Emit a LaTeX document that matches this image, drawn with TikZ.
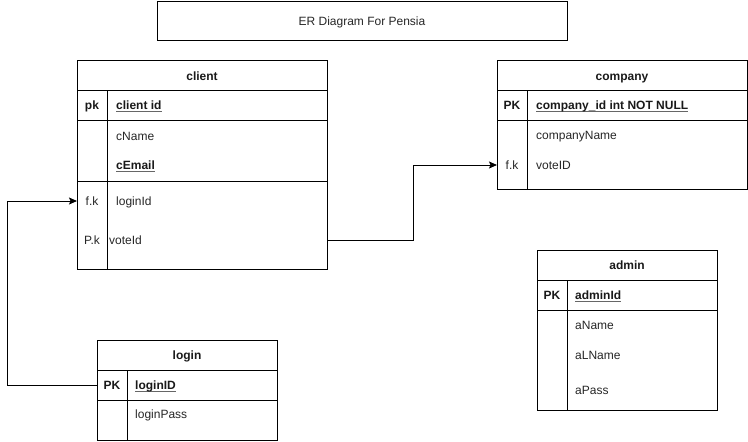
\documentclass[tikz,border=0pt]{standalone}
\usepackage{fontspec}
\setmainfont{Liberation Sans}
\usetikzlibrary{arrows.meta}
\newcommand\keyul[1]{\setbox0\hbox{#1}\rlap{\raisebox{-2.2pt}{\color{black!60}\rule{\wd0}{0.9pt}}}\box0}
\begin{document}
\begin{tikzpicture}[x=1pt,y=-1pt,
  tbl/.style={draw, line width=1pt, anchor=north west, inner sep=0pt},
  lbl/.style={font=\fontsize{12}{14}\selectfont, text=black!85, anchor=base west, inner sep=0pt},
  keyl/.style={font=\fontsize{12}{14}\selectfont\bfseries, text=black!90, anchor=base west, inner sep=0pt},
  kcol/.style={font=\fontsize{12}{14}\selectfont, text=black!85, anchor=base, inner sep=0pt},
  kcolb/.style={font=\fontsize{12}{14}\selectfont\bfseries, text=black!90, anchor=base, inner sep=0pt},
  hdr/.style={font=\fontsize{12}{14}\selectfont\bfseries, text=black!90, anchor=base, inner sep=0pt},
  ln/.style={line width=1pt},
  conn/.style={line width=1pt, -{Stealth[length=8pt,width=7pt,inset=1.5pt]}}]
\useasboundingbox (0,0) rectangle (748,442);

% title
\node[draw, line width=1pt, minimum width=410pt, minimum height=39pt, inner sep=0pt] (title) at (362,20.5) {};
\node[font=\fontsize{12}{14}\selectfont, text=black!85, anchor=base, inner sep=0pt] (titlet) at (362,25) {ER Diagram For Pensia};

% client
\node[tbl, minimum width=250pt, minimum height=209pt] (client) at (77,60) {};
\draw[ln] (77,90) -- (327,90);
\draw[ln] (77,120) -- (327,120);
\draw[ln] (77,181) -- (327,181);
\draw[ln] (107,90) -- (107,269);
\node[hdr] (clienth) at (202,80.5) {client};
\node[kcolb] (cpk) at (92,109.5) {pk};
\node[keyl] (cid) at (116,109.5) {\keyul{client id}};
\node[lbl] (cname) at (116,140) {cName};
\node[keyl] (cemail) at (116,169.5) {\keyul{cEmail}};
\node[kcol] (cfk) at (92,205) {f.k};
\node[lbl] (clogin) at (116,205) {loginId};
\node[kcol] (cvpk) at (92,244.5) {P.k};
\node[lbl] (cvote) at (109,244.5) {voteId};

% company
\node[tbl, minimum width=250pt, minimum height=129pt] (company) at (497,60) {};
\draw[ln] (497,90) -- (747,90);
\draw[ln] (497,120) -- (747,120);
\draw[ln] (527,90) -- (527,189);
\node[hdr] (companyh) at (622,80.5) {company};
\node[kcolb] (copk) at (512,109.5) {PK};
\node[keyl] (coid) at (536,109.5) {\keyul{company\_id int NOT NULL}};
\node[lbl] (coname) at (536,139.5) {companyName};
\node[kcol] (cofk) at (512,169.5) {f.k};
\node[lbl] (covote) at (536,169.5) {voteID};

% admin
\node[tbl, minimum width=180pt, minimum height=160pt] (admin) at (537,250) {};
\draw[ln] (537,280) -- (717,280);
\draw[ln] (537,310) -- (717,310);
\draw[ln] (567,280) -- (567,410);
\node[hdr] (adminh) at (627,269) {admin};
\node[kcolb] (apk) at (552,299.5) {PK};
\node[keyl] (aid) at (575,299.5) {\keyul{adminId}};
\node[lbl] (aname) at (575,329.5) {aName};
\node[lbl] (alname) at (575,359.5) {aLName};
\node[lbl] (apass) at (575,394.5) {aPass};

% login
\node[tbl, minimum width=180pt, minimum height=100pt] (login) at (97,340) {};
\draw[ln] (97,370) -- (277,370);
\draw[ln] (97,400) -- (277,400);
\draw[ln] (127,370) -- (127,440);
\node[hdr] (loginh) at (187,359) {login};
\node[kcolb] (lpk) at (112,389.5) {PK};
\node[keyl] (lid) at (135,389.5) {\keyul{loginID}};
\node[lbl] (lpass) at (135,418.5) {loginPass};

% connectors
\draw[conn] (login.west |- 0,385) -- ++(-90,0) |- (client.west |- 0,201);
\draw[conn] (client.east |- 0,240) -- ++(85,0) |- (company.west |- 0,165);
\end{tikzpicture}
\end{document}
